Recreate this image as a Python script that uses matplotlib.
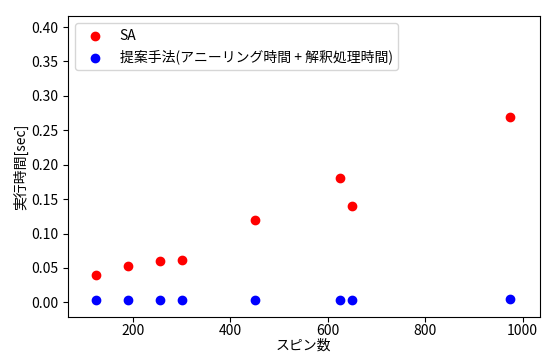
import matplotlib
matplotlib.use('Agg')
import matplotlib.pyplot as plt

plt.rcParams['font.family'] = ['Noto Sans CJK JP', 'DejaVu Sans']

spins = [125, 190, 255, 300, 450, 625, 650, 975]
sa_time = [0.040, 0.053, 0.060, 0.061, 0.120, 0.180, 0.140, 0.270]
proposed_time = [0.004, 0.004, 0.004, 0.004, 0.004, 0.004, 0.004, 0.005]

fig, ax = plt.subplots(figsize=(5.45, 3.56), dpi=100)
ax.scatter(spins, sa_time, color='red', label='SA')
ax.scatter(spins, proposed_time, color='blue', label='提案手法(アニーリング時間 + 解釈処理時間)')

ax.set_xlim(67, 1035)
ax.set_ylim(-0.021, 0.416)
ax.set_yticks([0.0, 0.05, 0.1, 0.15, 0.2, 0.25, 0.3, 0.35, 0.4])
ax.tick_params(axis='x', pad=2)
ax.set_xlabel('スピン数', labelpad=0)
ax.set_ylabel('実行時間[sec]', labelpad=2)
ax.legend(loc='upper left')

fig.subplots_adjust(left=0.125, right=0.99, top=0.955, bottom=0.11)
fig.savefig('out.png')
